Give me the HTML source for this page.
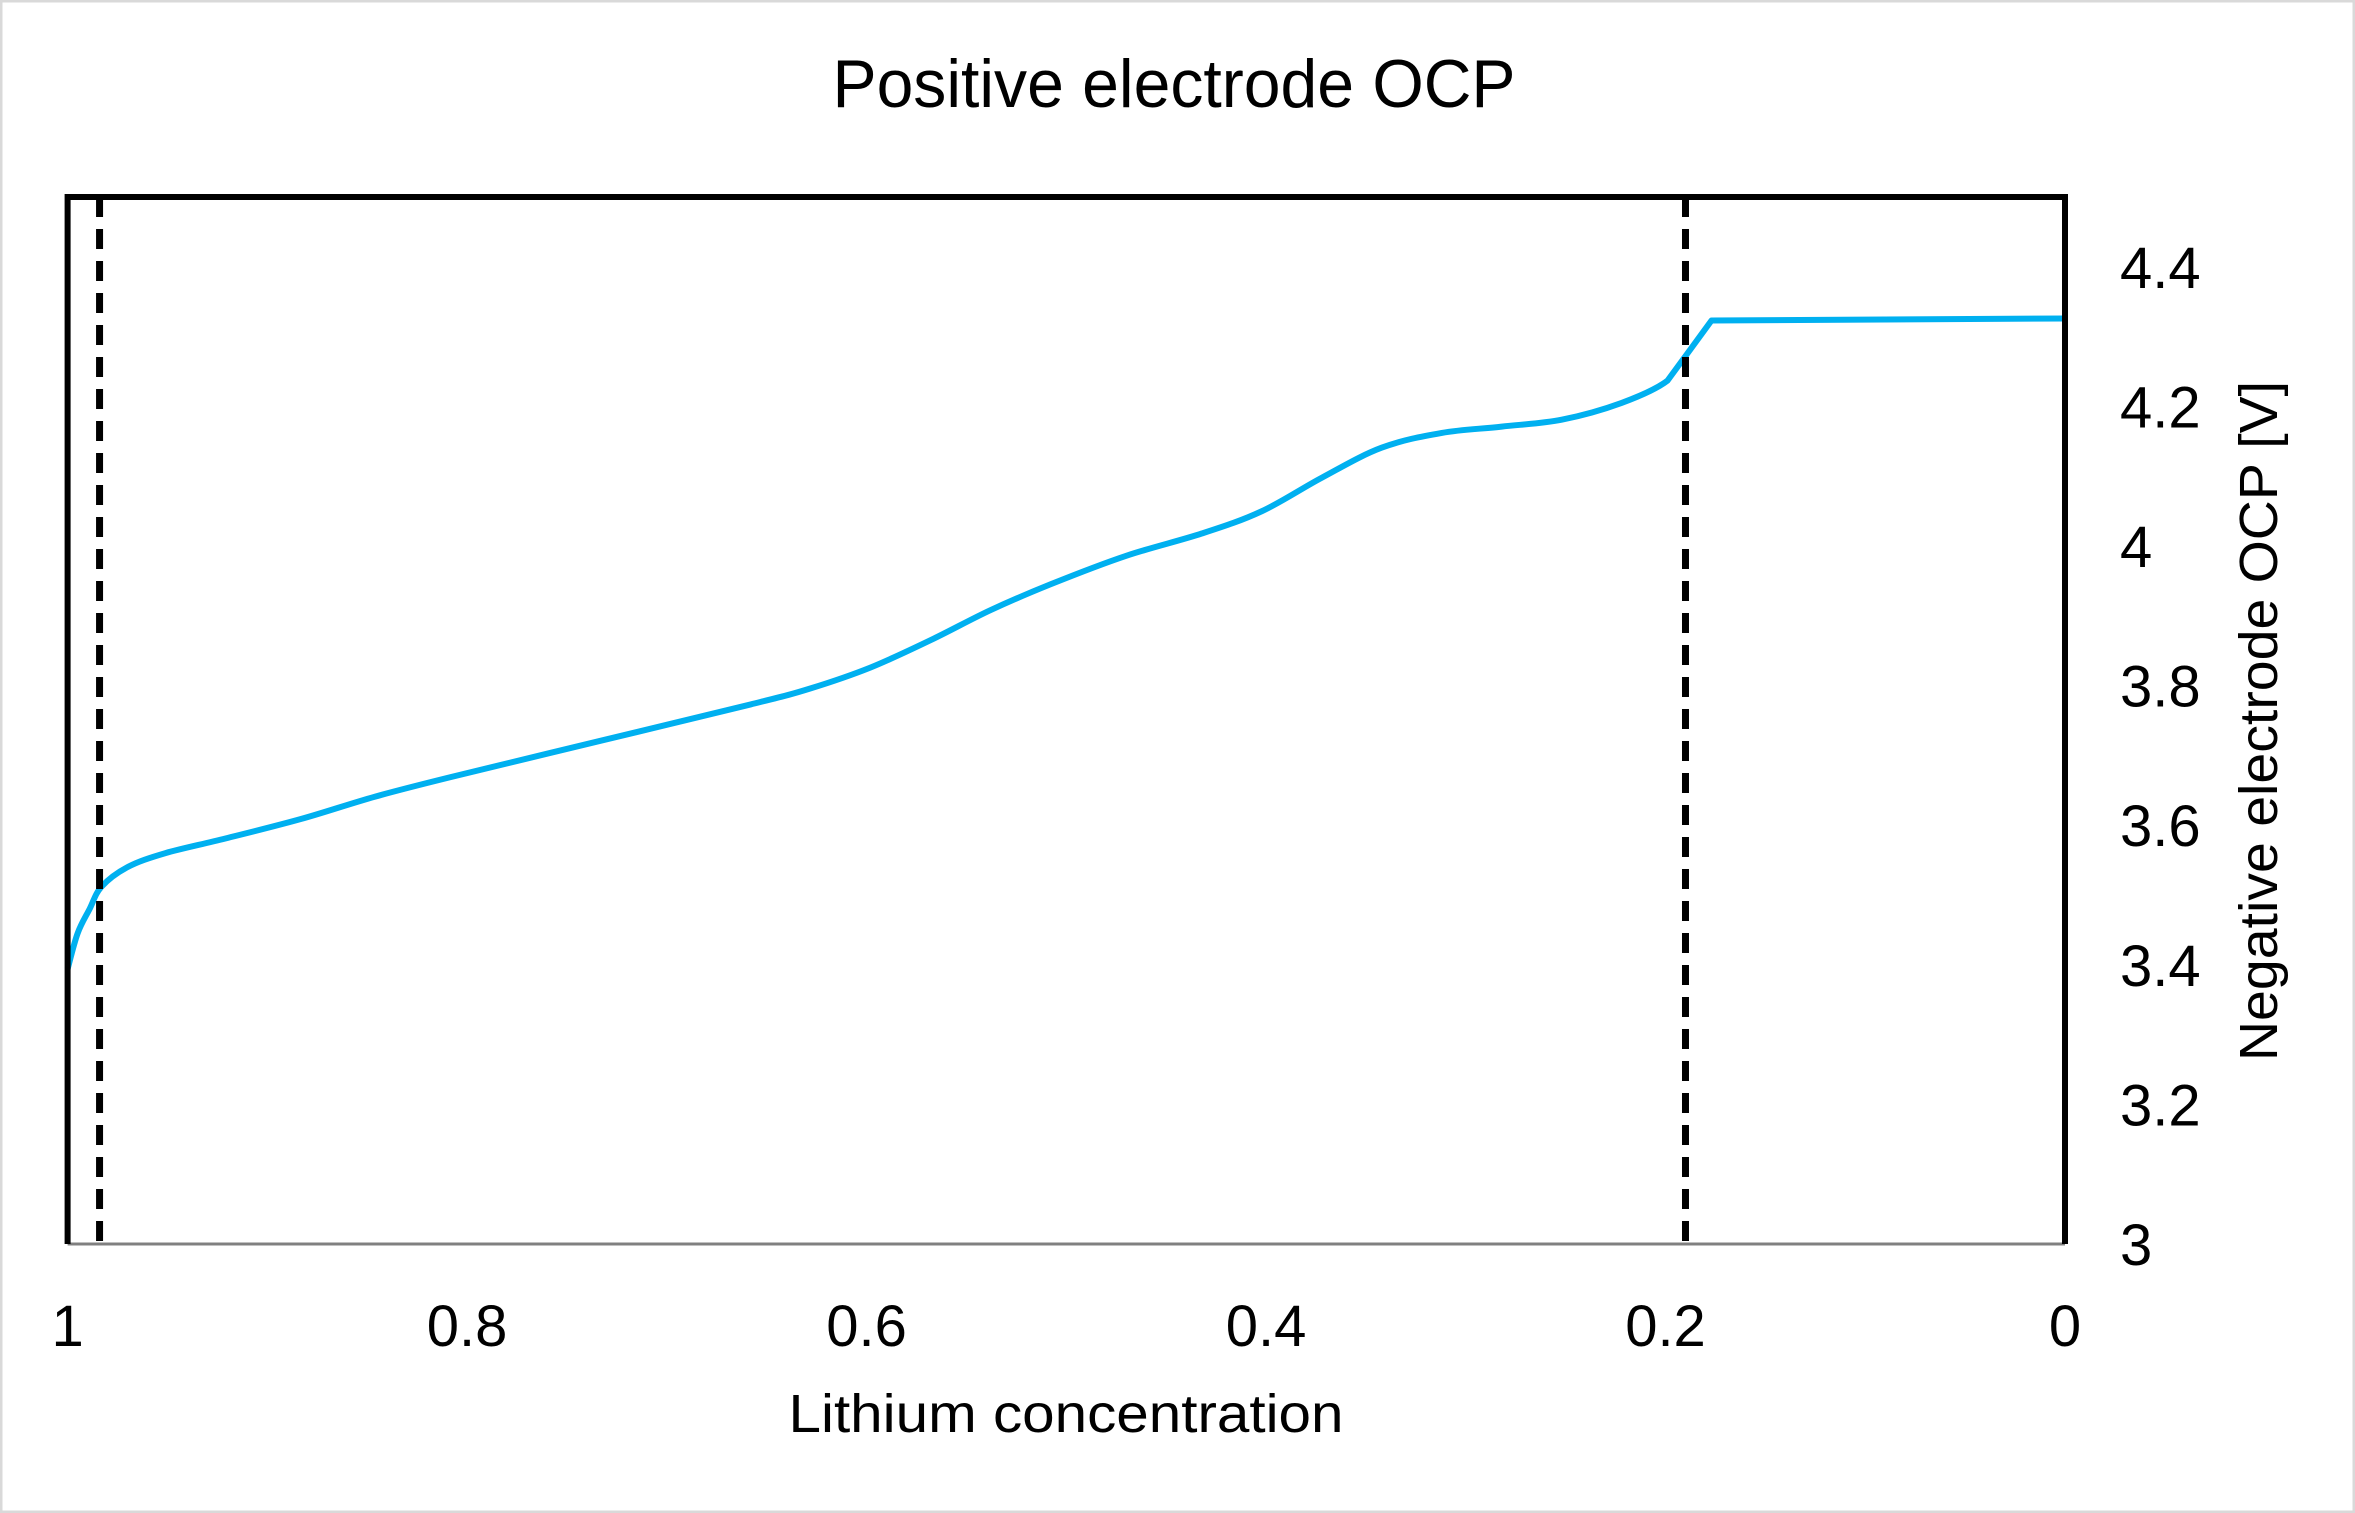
<!DOCTYPE html>
<html><head><meta charset="utf-8"><style>
html,body{margin:0;padding:0;background:#fff;}
svg{display:block;font-family:"Liberation Sans",sans-serif;}
</style></head><body>
<svg id="chart" width="2355" height="1513" viewBox="0 0 2355 1513" xmlns="http://www.w3.org/2000/svg">
<rect x="1" y="1" width="2353" height="1511" fill="#fff" stroke="#d9d9d9" stroke-width="3"/>
<text x="1174" y="107" font-size="68" text-anchor="middle" textLength="683" lengthAdjust="spacingAndGlyphs">Positive electrode OCP</text>
<g id="plot"></g>
<text x="1066" y="1432" font-size="54" text-anchor="middle" textLength="555" lengthAdjust="spacingAndGlyphs">Lithium concentration</text>
<text transform="translate(2277,721) rotate(-90)" font-size="54" text-anchor="middle" textLength="680" lengthAdjust="spacingAndGlyphs">Negative electrode OCP [V]</text>
</svg>
<script>
const conc = [1,0.995,0.989,0.983,0.970,0.951,0.921,0.883,0.846,0.808,0.733,0.658,0.628,0.598,0.568,0.538,0.508,0.470,0.432,0.402,0.372,0.342,0.312,0.282,0.252,0.222,0.199,0.188,0.177,0];
const ocp = [3.394,3.445,3.48,3.512,3.54,3.56,3.581,3.609,3.641,3.669,3.721,3.773,3.796,3.826,3.865,3.908,3.945,3.986,4.018,4.050,4.098,4.141,4.162,4.171,4.181,4.205,4.237,4.280,4.323,4.326];
const xTicks = [1,0.8,0.6,0.4,0.2,0];
const xTickLabels = ["1","0.8","0.6","0.4","0.2","0"];
const yTicks = [3,3.2,3.4,3.6,3.8,4,4.2,4.4];
const yTickLabels = ["3","3.2","3.4","3.6","3.8","4","4.2","4.4"];
const cutoffs = [0.984,0.190];

const L=67.6,R=2065,T=197,B=1244;
const xs=v=>R-(v-0)/(1-0)*(R-L);
const ys=v=>B-(v-3)/(4.5-3)*(B-T);
const NS="http://www.w3.org/2000/svg";
const g=document.getElementById('plot');
function mk(tag,attrs){const e=document.createElementNS(NS,tag);for(const k in attrs)e.setAttribute(k,attrs[k]);g.appendChild(e);return e;}

const P=conc.map((c,i)=>[xs(c),ys(ocp[i])]);
let d='M'+P[0][0].toFixed(1)+','+P[0][1].toFixed(1);
for(let i=0;i<P.length-1;i++){
  const p0=P[Math.max(0,i-1)],p1=P[i],p2=P[i+1],p3=P[Math.min(P.length-1,i+2)];
  const k=(i>=26)?0:1/6;
  const c1=[p1[0]+(p2[0]-p0[0])*k,p1[1]+(p2[1]-p0[1])*k];
  const c2=[p2[0]-(p3[0]-p1[0])*k,p2[1]-(p3[1]-p1[1])*k];
  d+=` C${c1[0].toFixed(1)},${c1[1].toFixed(1)} ${c2[0].toFixed(1)},${c2[1].toFixed(1)} ${p2[0].toFixed(1)},${p2[1].toFixed(1)}`;
}
const line=mk('path',{d:d,fill:'none',stroke:'#00b0f0','stroke-width':6,'stroke-linejoin':'round'});



cutoffs.forEach((c,i)=>{
  const dl=mk('line',{x1:xs(c),x2:xs(c),y1:T,y2:B,stroke:'#000','stroke-width':7,'stroke-dasharray':'20,12'});
  
  
});

const bot=mk('line',{x1:L,x2:R,y1:B,y2:B,stroke:'#808080','stroke-width':3});


const fr=mk('path',{d:`M${L},${B} L${L},${T} L${R},${T} L${R},${B}`,fill:'none',stroke:'#000','stroke-width':6});



xTicks.forEach((v,i)=>{
  const t=mk('text',{x:xs(v),y:1346,'font-size':58,'text-anchor':'middle'});
  t.textContent=xTickLabels[i];
  
  
});
yTicks.forEach((v,i)=>{
  const t=mk('text',{x:2120,y:ys(v)+21,'font-size':58,'text-anchor':'start'});
  t.textContent=yTickLabels[i];
  
  
});
</script>
</body></html>
